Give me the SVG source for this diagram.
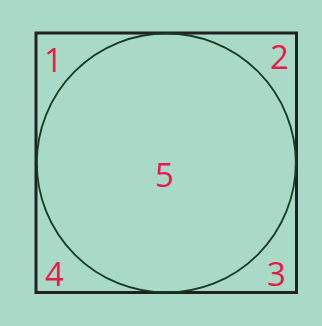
<svg xmlns="http://www.w3.org/2000/svg" width="322" height="326" viewBox="0 0 322 326">
<style>
.n{font-family:"Open Sans","Noto Sans",sans-serif;font-size:33px;fill:#e8194d;text-anchor:middle}
</style>
<rect width="322" height="326" fill="#a9d9c7"/>
<g id="square"><rect x="36" y="33" width="260.5" height="259.5" fill="none" stroke="#222" stroke-width="3"/></g>
<g id="circle"><circle cx="166.3" cy="163" r="129.5" fill="none" stroke="#173a22" stroke-width="1.8"/></g>
<g id="n1"><text class="n" x="53.5" y="72">1</text></g>
<g id="n2"><text class="n" x="279.5" y="69">2</text></g>
<g id="n3"><text class="n" x="276.5" y="286">3</text></g>
<g id="n4"><text class="n" x="54.5" y="286">4</text></g>
<g id="n5"><text class="n" x="164.5" y="187">5</text></g>
</svg>
